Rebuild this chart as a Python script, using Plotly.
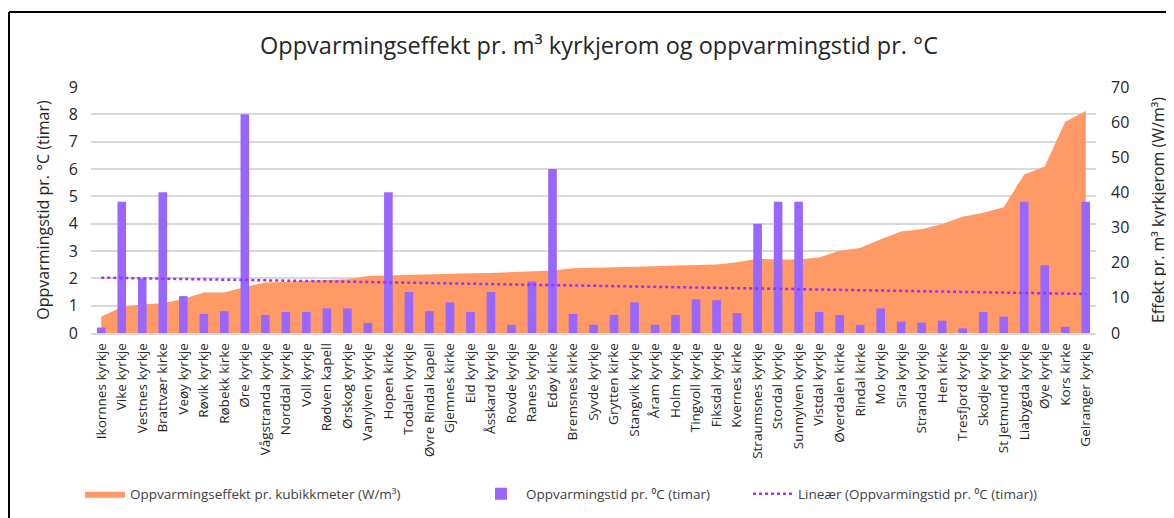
import numpy as np
import plotly.graph_objects as go

churches = [
    "Ikornnes kyrkje", "Vike kyrkje", "Vestnes kyrkje", "Brattvær kirke", "Veøy kyrkje",
    "Røvik kyrkje", "Røbekk kirke", "Øre kyrkje", "Vågstranda kyrkje", "Norddal kyrkje",
    "Voll kyrkje", "Rødven kapell", "Ørskog kyrkje", "Vanylven kyrkje", "Hopen kirke",
    "Todalen kyrkje", "Øvre Rindal kapell", "Gjemnes kirke", "Eid kyrkje", "Åsskard kyrkje",
    "Rovde kyrkje", "Ranes kyrkje", "Edøy kirke", "Bremsnes kirke", "Syvde kyrkje",
    "Grytten kirke", "Stangvik kyrkje", "Åram kyrkje", "Holm kyrkje", "Tingvoll kyrkje",
    "Fiksdal kyrkje", "Kvernes kirke", "Straumsnes kyrkje", "Stordal kyrkje", "Sunnylven kyrkje",
    "Vistdal kyrkje", "Øverdalen kirke", "Rindal kirke", "Mo kyrkje", "Sira kyrkje",
    "Stranda kyrkje", "Hen kirke", "Tresfjord kyrkje", "Skodje kyrkje", "St Jetmund kyrkje",
    "Liabygda kyrkje", "Øye kyrkje", "Kors kirke", "Geiranger kyrkje",
]

# Oppvarmingseffekt pr. kubikkmeter (W/m³) - right axis
effekt = [
    4.6, 7.4, 8.1, 8.5, 9.7, 11.5, 11.5, 13.1, 14.4, 14.5,
    14.9, 15.1, 15.3, 16.2, 16.4, 16.5, 16.7, 16.8, 17.0, 17.1,
    17.3, 17.5, 17.8, 18.4, 18.5, 18.7, 18.9, 19.0, 19.2, 19.3,
    19.5, 20.1, 21.1, 20.9, 20.9, 21.5, 23.4, 24.2, 26.7, 28.9,
    29.5, 31.0, 33.1, 34.2, 35.8, 45.1, 47.4, 60.1, 63.2,
]

# Oppvarmingstid pr. °C (timar) - left axis
timar = [
    0.2, 4.8, 2.0, 5.15, 1.35, 0.7, 0.8, 8.0, 0.66, 0.77,
    0.77, 0.9, 0.9, 0.37, 5.15, 1.5, 0.8, 1.12, 0.77, 1.5,
    0.3, 1.88, 6.0, 0.7, 0.3, 0.66, 1.12, 0.3, 0.66, 1.23,
    1.2, 0.73, 4.0, 4.8, 4.8, 0.77, 0.66, 0.3, 0.9, 0.42,
    0.38, 0.45, 0.17, 0.77, 0.6, 4.8, 2.48, 0.23, 4.8,
]

left_ticks = list(range(0, 10))
right_ticks = list(range(0, 80, 10))

# Linear trendline (least squares over category index), like Excel's "Lineær"
idx = np.arange(1, len(timar) + 1)
slope, intercept = np.polyfit(idx, np.array(timar), 1)
trend = slope * idx + intercept

ORANGE = "#FF9966"
PURPLE = "#9966FF"
TREND = "#9933FF"
FONT = "Open Sans"

# figure placed in page with the 8px body margin
W, H = 1166, 510
PL, PR, PT, PB = 91, 1096, 87, 333   # plot area in page pixels
OFF = 8


def px_x(px):
    return (px - PL) / (PR - PL)


def px_y(py):
    return (PB - py) / (PB - PT)


fig = go.Figure()
fig.add_trace(go.Scatter(
    x=churches, y=effekt, yaxis="y", mode="lines", fill="tozeroy",
    line=dict(color=ORANGE, width=0), fillcolor=ORANGE,
    name="Oppvarmingseffekt pr. kubikkmeter (W/m³)", legend="legend",
))
fig.add_trace(go.Bar(
    x=churches, y=timar, yaxis="y2", marker=dict(color=PURPLE, line=dict(width=0)),
    name="Oppvarmingstid pr. ⁰C (timar)", legend="legend2",
))
fig.add_trace(go.Scatter(
    x=churches, y=trend, yaxis="y2", mode="lines",
    line=dict(color=TREND, width=2.5, dash="dot"),
    name="Lineær (Oppvarmingstid pr. ⁰C (timar))", legend="legend3",
))

# frame lines (left and top edges of the chart area)
fx = px_x(9)
fy_top = px_y(12)
fy_bot = px_y(530)
fig.add_shape(type="line", xref="paper", yref="paper", x0=fx, x1=fx, y0=fy_bot, y1=fy_top,
              line=dict(color="black", width=2))
fig.add_shape(type="line", xref="paper", yref="paper", x0=fx, x1=1.2, y0=fy_top, y1=fy_top,
              line=dict(color="black", width=2))

leg_common = dict(orientation="h", yanchor="middle", y=px_y(494), xanchor="left",
                  font=dict(size=13.5, color="#404040", family=FONT),
                  itemwidth=40, bgcolor="rgba(0,0,0,0)")

fig.update_layout(
    width=W, height=H,
    margin=dict(l=PL - OFF, r=1174 - PR, t=PT - OFF, b=518 - PB, autoexpand=False),
    paper_bgcolor="white", plot_bgcolor="white",
    font=dict(family=FONT, color="#404040"),
    title=dict(text="Oppvarmingseffekt pr. m³ kyrkjerom og oppvarmingstid pr. °C",
               x=(599 - OFF) / W, xanchor="center", y=1 - (46 - OFF) / H, yanchor="middle",
               yref="container", xref="container",
               font=dict(size=23.5, color="#262626", family=FONT)),
    bargap=0.58,
    showlegend=True,
    legend=dict(leg_common, x=px_x(80)),
    legend2=dict(leg_common, x=px_x(476)),
    legend3=dict(leg_common, x=px_x(748)),
    xaxis=dict(type="category", tickangle=-90, tickfont=dict(size=13.5, color="#262626"),
               showgrid=False, showline=True, linecolor="#d9d9d9", linewidth=1.5,
               ticks="", ticklabelstandoff=3, range=[-0.5, len(churches) - 0.5],
               automargin=False),
    yaxis=dict(side="right", range=[0, 70], tickvals=right_ticks,
               showgrid=False, zeroline=False, tickfont=dict(size=16, color="#262626"),
               ticklabelstandoff=14, automargin=False,
               title=dict(text="Effekt pr. m³ kyrkjerom (W/m³)", standoff=24,
                          font=dict(size=16, color="#262626"))),
    yaxis2=dict(side="left", overlaying="y", range=[0, 9], tickvals=left_ticks,
                showgrid=True, gridcolor="#d9d9d9", gridwidth=1.5, zeroline=False,
                tickfont=dict(size=16, color="#262626"), ticklabelstandoff=12,
                automargin=False,
                title=dict(text="Oppvarmingstid pr. °C (timar)", standoff=15,
                           font=dict(size=16, color="#262626"))),
)

fig.write_html("out.html")
